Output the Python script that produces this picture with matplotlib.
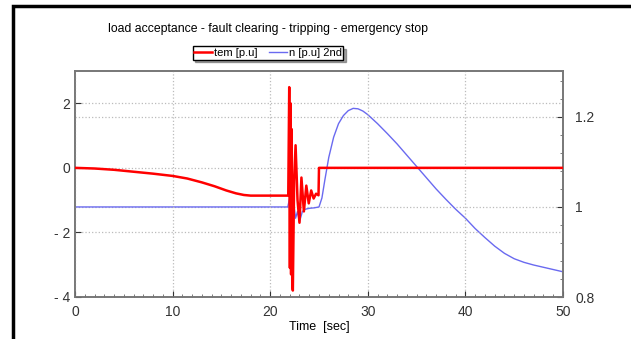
import numpy as np
import matplotlib.pyplot as plt
from matplotlib.patches import Rectangle
from matplotlib.lines import Line2D
from matplotlib.ticker import MultipleLocator

plt.rcParams['font.family'] = ['Liberation Sans', 'DejaVu Sans']

# tem [p.u] (left axis)
t_tem = [0, 2, 4, 6, 8, 10, 11.5, 13, 14.3, 15.5, 16.5, 17.3, 18, 21.85,
         21.95, 22.02, 22.08, 22.14, 22.2, 22.26, 22.32, 22.45, 22.6, 22.8, 23.0, 23.2, 23.45, 23.7,
         23.95, 24.2, 24.45, 24.7, 24.95, 25.0, 50]
tem = [0, -0.02, -0.06, -0.12, -0.18, -0.25, -0.33, -0.45, -0.57, -0.7, -0.79, -0.84, -0.86, -0.86,
       2.5, -3.1, 2.0, -3.3, 1.2, -3.6, -3.8, -0.4, 0.7, -1.0, -1.7, -0.3, -1.35, -0.55,
       -1.1, -0.7, -0.95, -0.8, -0.85, 0, 0]

# n [p.u] 2nd (right axis)
t_n = [0, 21.8, 22.0, 22.2, 22.4, 22.6, 22.8, 23.0, 23.3, 23.6, 24.0, 24.5, 25.0,
       25.3, 25.6, 26.0, 26.5, 27, 27.5, 28, 28.5, 29, 29.5, 30, 31, 32, 33, 34, 35,
       36, 37, 38, 39, 40, 41, 42, 43, 44, 45, 46, 47, 48, 49, 50]
n = [1.0, 1.0, 1.02, 0.99, 1.01, 0.975, 0.99, 0.967, 0.99, 0.995, 0.997, 0.998, 1.0,
     1.02, 1.06, 1.11, 1.155, 1.185, 1.203, 1.214, 1.219, 1.218, 1.213, 1.205, 1.185, 1.163, 1.14, 1.115, 1.09,
     1.065, 1.04, 1.017, 0.995, 0.975, 0.952, 0.932, 0.913, 0.897, 0.885, 0.877, 0.871, 0.866, 0.861, 0.856]

fig = plt.figure(figsize=(6.31, 3.39), dpi=100)
ax = fig.add_axes([75/631, 42/339, 488/631, 226/339])
ax2 = ax.twinx()

ax.plot(t_tem, tem, color='#ff0000', lw=1.8, zorder=3)
ax2.plot(t_n, n, color='#6a6af0', lw=1.0, zorder=2)
ax.set_zorder(ax2.get_zorder() + 1)
ax.patch.set_visible(False)

ax.set_xlim(0, 50)
ax.set_ylim(-4, 3)
ax2.set_ylim(0.8, 1.302)

ax.set_xticks([0, 10, 20, 30, 40, 50])
ax.set_yticks([2, 0, -2, -4])
ax.set_yticklabels(['2', '0', '- 2', '- 4'])
ax2.set_yticks([1.2, 1.0, 0.8])
ax2.set_yticklabels(['1.2', '1', '0.8'])
ax.xaxis.set_minor_locator(MultipleLocator(1))
ax2.yaxis.set_minor_locator(MultipleLocator(0.04))

for a in (ax, ax2):
    a.tick_params(direction='in', length=4, labelsize=10, colors='#333333')
    a.tick_params(which='minor', direction='in', length=2, color='#666666')
    for s in a.spines.values():
        s.set_color('#777777')
        s.set_linewidth(1.2)
ax.tick_params(axis='x', pad=6)
ax2.tick_params(axis='y', pad=9)

ax.grid(True, linestyle=':', color='#bbbbbb', lw=0.9)
for y in [1.2, 1.0]:
    ax2.axhline(y, linestyle=':', color='#bbbbbb', lw=0.9, zorder=0)

ax.set_xlabel('Time  [sec]', fontsize=9, labelpad=1)

fig.text(268/631, 1 - 29/339, 'load acceptance - fault clearing - tripping - emergency stop',
         ha='center', va='center', fontsize=8.8)

handles = [Line2D([], [], color='#ff0000', lw=1.8), Line2D([], [], color='#6a6af0', lw=1.0)]
fig.legend(handles, ['tem [p.u]', 'n [p.u] 2nd'], loc='center', bbox_to_anchor=(268/631, 1 - 53/339),
           ncol=2, fontsize=8, frameon=True, fancybox=False, shadow=True, edgecolor='black',
           handlelength=1.6, handletextpad=0.2, columnspacing=1.0, borderpad=0.15)

fig.patches.append(Rectangle((13/631, -0.1), 1.0, 1 - 6/339 + 0.1, transform=fig.transFigure,
                             fill=False, edgecolor='black', lw=2.5))

fig.savefig('out.png', dpi=100)
